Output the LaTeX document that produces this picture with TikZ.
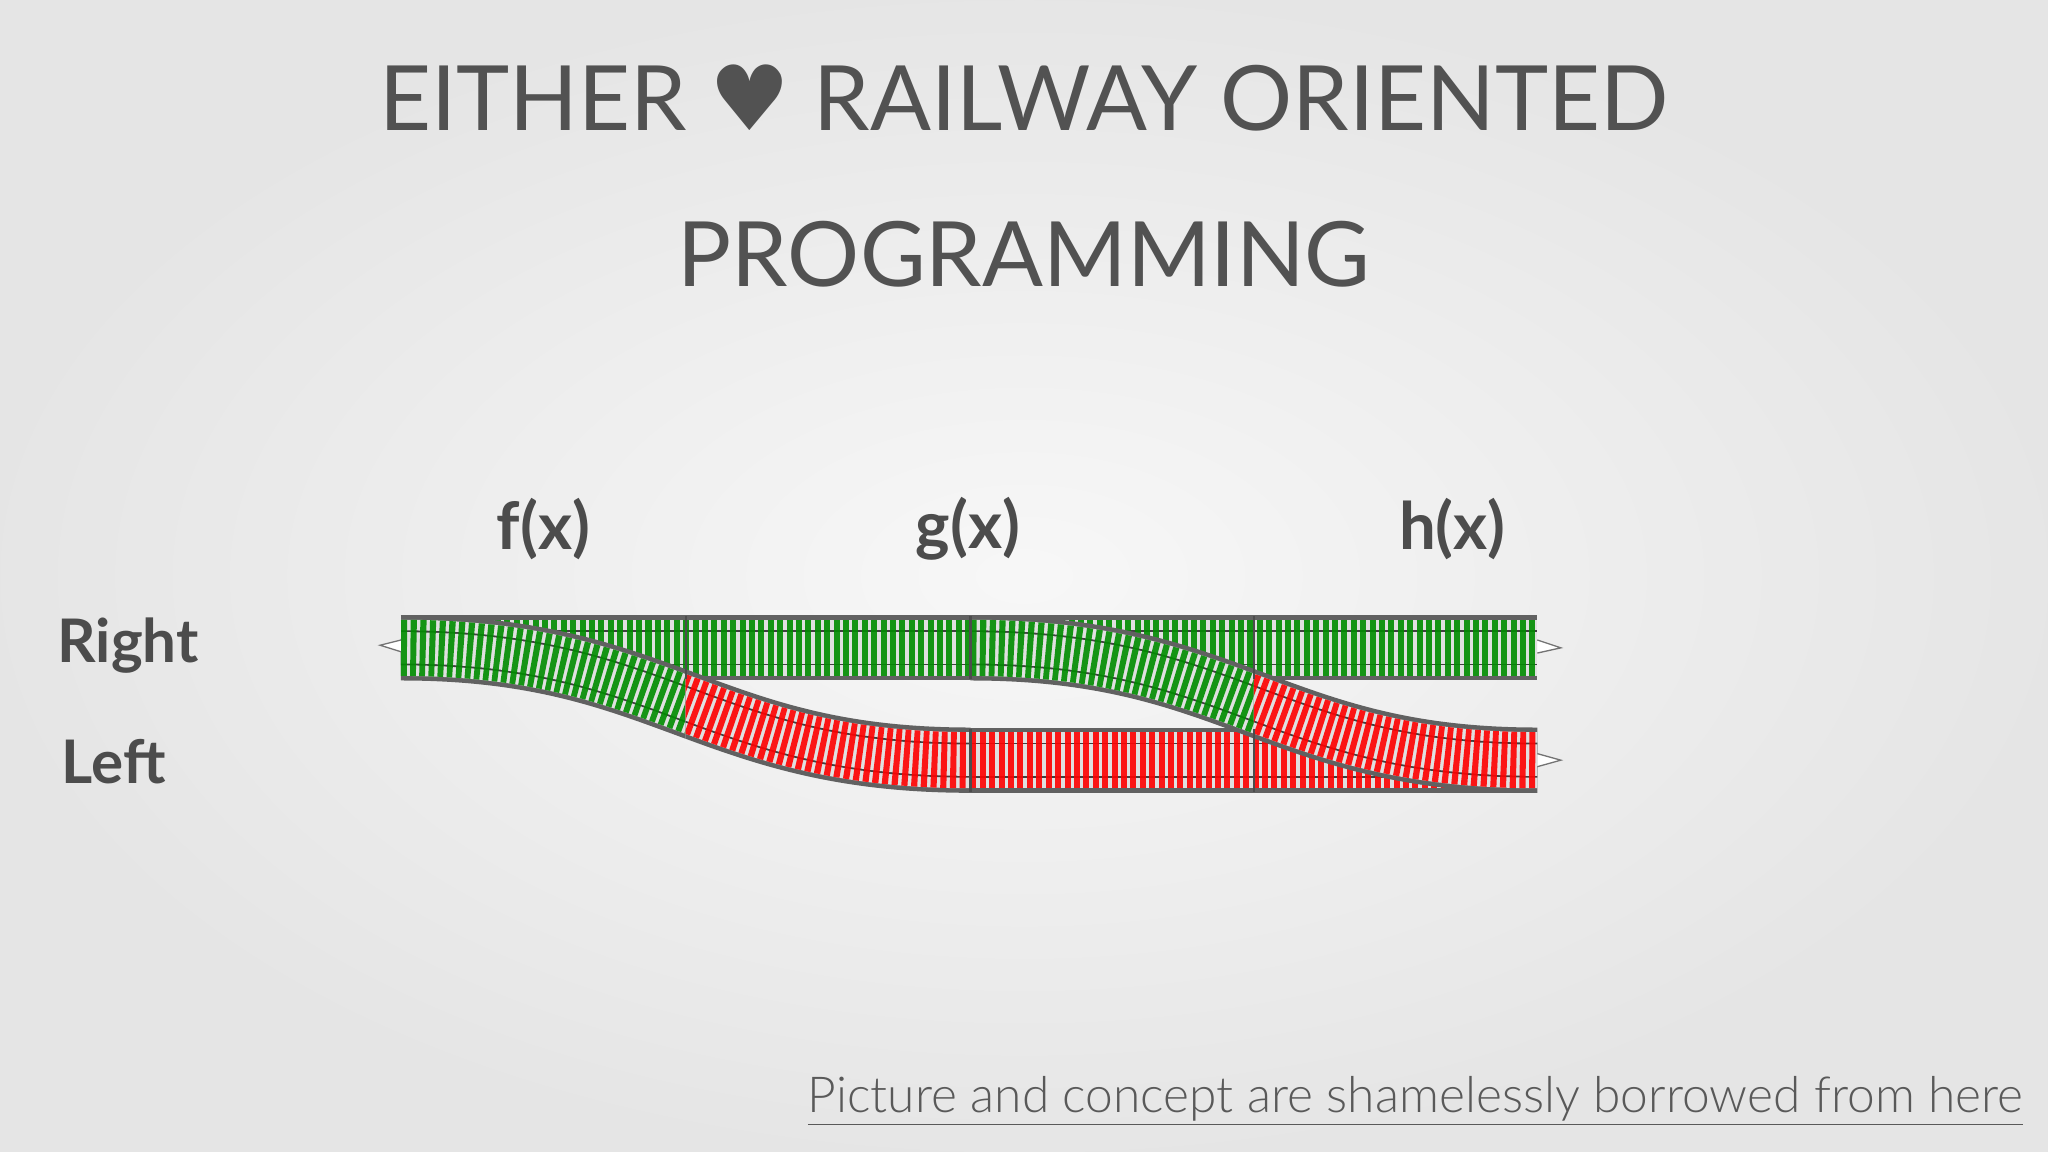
\documentclass[tikz,border=0pt]{standalone}
\usepackage{fontspec}
\setmainfont{Lato}
\newfontfamily\symf{DejaVu Sans}
\newfontfamily\lightf{Lato Light}
\begin{document}
\begin{tikzpicture}[x=0.5pt,y=-0.5pt,
  ttl/.style={text=black!68, font=\fontsize{34.5}{40}\selectfont},
  lbl/.style={text=black!70, font=\bfseries\fontsize{25}{28}\selectfont},
]
\shade[inner color=white!97!black, outer color=black!10] (0,0) rectangle (1568,882);
\useasboundingbox (0,0) rectangle (1568,882);
\node[ttl] (t1) at (784,75) {EITHER {\symf\char"2665} RAILWAY ORIENTED};
\node[ttl] (t2) at (784,195) {PROGRAMMING};
\node[lbl] (f) at (416,405) {f(x)};
\node[lbl] (g) at (741,405) {g(x)};
\node[lbl] (h) at (1112,405) {h(x)};
\node[lbl,font=\bfseries\fontsize{23}{26}\selectfont] (r) at (98,494) {Right};
\node[lbl,font=\bfseries\fontsize{23}{26}\selectfont] (l) at (87,583) {Left};
\node[text=black!65, font=\lightf\fontsize{19}{22}\selectfont, anchor=east] (cr) at (1556,843) {\underline{Picture and concept are shamelessly borrowed from here}};
\newcommand{\trkpiece}[2]{%
  \draw[line width=25pt, draw=black!62] #1;
  \draw[line width=21.5pt, draw=black!12] #1;
  \draw[line width=0.7pt, draw=black!75, double=black!12, double distance=12pt] #1;
  \draw[line width=21.5pt, draw=#2, opacity=0.9, dash pattern=on 2.3pt off 1.3pt] #1;}
\colorlet{tg}{green!55!black}
\colorlet{tr}{red}
\coordinate (A) at (307,496); \coordinate (B) at (1177,496);
\coordinate (C) at (743,582); \coordinate (D) at (1177,582);
\trkpiece{(C) -- (D)}{tr}
\trkpiece{(A) -- (B)}{tg}
\begin{scope}
\clip (290,440) rectangle (525,640);
\trkpiece{(307,496) .. controls (510,496) and (540,582) .. (743,582)}{tg}
\end{scope}
\begin{scope}
\clip (525,440) rectangle (760,640);
\trkpiece{(307,496) .. controls (510,496) and (540,582) .. (743,582)}{tr}
\end{scope}
\begin{scope}
\clip (730,440) rectangle (960,640);
\trkpiece{(743,496) .. controls (946,496) and (976,582) .. (1177,582)}{tg}
\end{scope}
\begin{scope}
\clip (960,440) rectangle (1177,640);
\trkpiece{(743,496) .. controls (946,496) and (976,582) .. (1177,582)}{tr}
\end{scope}
\foreach \x in {525,743,960}{\draw[black!70, line width=0.8pt] (\x,472) -- (\x,520);}
\draw[black!70, line width=0.8pt] (743,558) -- (743,606);
\draw[black!70, line width=0.8pt] (960,558) -- (960,606);
\draw[black!55, fill=white, line width=0.5pt] (307,490) -- (291,494) -- (307,499);
\draw[black!55, fill=white, line width=0.5pt] (1177,490) -- (1195,496) -- (1177,500);
\draw[black!55, fill=white, line width=0.5pt] (1177,577) -- (1195,582) -- (1177,587);
\end{tikzpicture}
\end{document}
